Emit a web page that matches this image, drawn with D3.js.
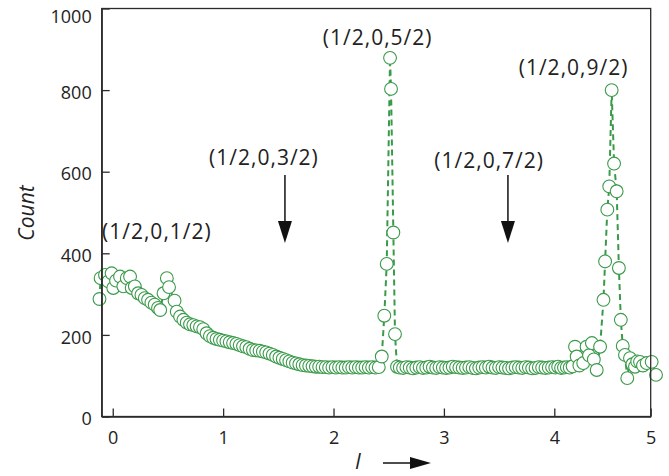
<!DOCTYPE html>
<html>
<head>
<meta charset="utf-8">
<script src="https://cdn.jsdelivr.net/npm/d3@7"></script>
<style>
  body { margin: 0; background: #fff; }
  svg { display: block; font-family: "Open Sans", sans-serif; }
</style>
</head>
<body>
<svg id="chart" width="669" height="476"></svg>
<script>
// scan along l
const lValues = [
  -0.12, -0.11, -0.07, -0.04, -0.01, 0.005, 0.03, 0.066, 0.096, 0.127, 0.157, 0.172, 0.2, 0.23, 0.26,
  0.29, 0.32, 0.35, 0.38, 0.41, 0.43, 0.46, 0.49, 0.51, 0.56, 0.58,
  0.61, 0.64, 0.67, 0.70, 0.73, 0.76, 0.79, 0.82, 0.85, 0.88, 0.91, 0.94, 0.97, 1.00, 1.03, 1.06,
  1.09, 1.12, 1.15, 1.18, 1.21, 1.24, 1.27, 1.30, 1.33, 1.36, 1.39, 1.42, 1.45, 1.48, 1.51, 1.54,
  1.57, 1.60, 1.63, 1.66, 1.69, 1.72, 1.75, 1.78, 1.81, 1.84, 1.87, 1.90, 1.93, 1.96, 1.99, 2.02,
  2.05, 2.08, 2.11, 2.14, 2.17, 2.20, 2.23, 2.26, 2.29, 2.32, 2.35, 2.38, 2.41,
  2.437, 2.46, 2.482, 2.512, 2.521, 2.542, 2.557, 2.575,
  2.60, 2.63, 2.66, 2.69, 2.72, 2.75, 2.78, 2.81, 2.84, 2.87, 2.90, 2.93, 2.96, 2.99, 3.02, 3.05,
  3.08, 3.11, 3.14, 3.17, 3.20, 3.23, 3.26, 3.29, 3.32, 3.35, 3.38, 3.41, 3.44, 3.47, 3.50, 3.53,
  3.56, 3.59, 3.62, 3.65, 3.68, 3.71, 3.74, 3.77, 3.80, 3.83, 3.86, 3.89, 3.92, 3.95, 3.98, 4.01,
  4.04, 4.07, 4.10, 4.13, 4.16, 4.19,
  4.215, 4.232, 4.26, 4.30, 4.335, 4.36, 4.39, 4.41, 4.44, 4.475, 4.51, 4.527, 4.55, 4.57, 4.595,
  4.62, 4.647, 4.67, 4.69, 4.71, 4.733, 4.757, 4.785, 4.81, 4.837, 4.86, 4.889, 4.92, 4.958, 5.01, 5.055
];
const counts = [
  288, 339, 347, 331, 351, 315, 333, 343, 319, 339, 343, 315, 319, 302, 298,
  290, 286, 279, 274, 266, 261, 302, 339, 317, 284, 257,
  245, 237, 230, 226, 224, 221, 219, 214, 204, 197, 193, 190, 188, 186, 184, 182,
  180, 178, 175, 172, 170, 166, 163, 162, 161, 159, 157, 154, 151, 147, 144, 141,
  138, 135, 132, 130, 128, 126, 125, 124, 123, 122, 122, 121, 121, 120, 121, 120,
  121, 120, 120, 121, 120, 121, 120, 120, 121, 120, 121, 120, 121,
  147, 247, 374, 879, 803, 451, 202, 122,
  120, 119, 121, 120, 118, 120, 121, 119, 120, 122, 120, 119, 121, 120, 119, 120,
  122, 121, 120, 119, 120, 121, 119, 118, 120, 121, 120, 122, 120, 119, 121, 120,
  119, 118, 120, 121, 120, 119, 121, 120, 118, 119, 121, 120, 119, 120, 121, 120,
  122, 119, 120, 121, 120, 123,
  171, 147, 125, 131, 171, 150, 180, 140, 114, 171, 286, 380, 507, 564, 800,
  620, 552, 364, 237, 173, 151, 94, 143, 128, 122, 135, 134, 125, 131, 134, 102
];

const xTicks = [0, 1, 2, 3, 4, 5];
const yTicks = [0, 200, 400, 600, 800, 1000];

// reflection labels, anchored in data units
const reflLabels = ["(1/2,0,1/2)", "(1/2,0,3/2)", "(1/2,0,5/2)", "(1/2,0,7/2)", "(1/2,0,9/2)"];
const reflL = [0.40, 1.37, 2.40, 3.41, 4.20];
const reflCount = [435, 617, 911, 610, 838];
// arrows pointing at the missing reflections
const arrowL = [1.56, 3.58];

const green = "#3a9a4a";
const ink = "#2b2b2b";

const svg = d3.select("#chart");

const x = d3.scaleLinear()
    .domain([-0.1, 4, 5])
    .range([101.7, 554.3, 650.7]);
const y = d3.scaleLinear()
    .domain([0, 1000])
    .range([416.5, 8.5]);

const points = lValues.map((l, i) => [l, counts[i]]);

// dashed guide line under the markers
svg.append("path")
    .datum(points)
    .attr("fill", "none")
    .attr("stroke", green)
    .attr("stroke-width", 2)
    .attr("stroke-dasharray", "6,4")
    .attr("d", d3.line().x(d => x(d[0])).y(d => y(d[1])));

svg.append("g")
    .selectAll("circle")
    .data(points)
    .enter().append("circle")
    .attr("cx", d => x(d[0]))
    .attr("cy", d => y(d[1]))
    .attr("r", 6.4)
    .attr("fill", "#fff")
    .attr("stroke", green)
    .attr("stroke-width", 1.1);

// frame
svg.append("rect")
    .attr("x", x.range()[0])
    .attr("y", y.range()[1])
    .attr("width", x.range()[2] - x.range()[0])
    .attr("height", y.range()[0] - y.range()[1])
    .attr("fill", "none")
    .attr("stroke", ink)
    .attr("stroke-width", 1.3);

const xAxis = svg.append("g")
    .attr("transform", `translate(0,${y.range()[0]})`)
    .call(d3.axisBottom(x).tickValues(xTicks).tickFormat(d3.format("d"))
        .tickSizeInner(-8).tickSizeOuter(0).tickPadding(15));
const yAxis = svg.append("g")
    .attr("transform", `translate(${x.range()[0]},0)`)
    .call(d3.axisLeft(y).tickValues(yTicks).tickFormat(d3.format("d"))
        .tickSizeInner(-8).tickSizeOuter(0).tickPadding(10));

[xAxis, yAxis].forEach(g => {
    g.select(".domain").attr("stroke", ink).attr("stroke-width", 1.3);
    g.selectAll(".tick line").attr("stroke", ink).attr("stroke-width", 1.3);
    g.selectAll(".tick text")
        .attr("fill", "#222")
        .style("font-family", "'Open Sans', sans-serif")
        .style("font-size", "18px");
});
yAxis.selectAll(".tick text").attr("dy", d => d === 1000 ? "0.75em" : "0.45em");

// axis titles
svg.append("text")
    .attr("transform", "translate(34,213) rotate(-90)")
    .attr("text-anchor", "middle")
    .style("font-size", "21px")
    .style("font-style", "italic")
    .attr("fill", "#222")
    .text("Count");

svg.append("text")
    .attr("x", 358)
    .attr("y", 469)
    .attr("text-anchor", "middle")
    .style("font-size", "21px")
    .style("font-style", "italic")
    .attr("fill", "#222")
    .text("l");

svg.append("line")
    .attr("x1", 383).attr("x2", 414)
    .attr("y1", 463).attr("y2", 463)
    .attr("stroke", "#111").attr("stroke-width", 1.5);
svg.append("path")
    .attr("d", "M410,457 L431,463 L410,469 Z")
    .attr("fill", "#111");

// reflection labels
svg.append("g")
    .selectAll("text")
    .data(reflLabels)
    .enter().append("text")
    .attr("x", (d, i) => x(reflL[i]))
    .attr("y", (d, i) => y(reflCount[i]))
    .attr("text-anchor", "middle")
    .style("font-size", "21px")
    .style("letter-spacing", "1px")
    .attr("fill", "#222")
    .text(d => d);

// down arrows
const arrows = svg.append("g").selectAll("g").data(arrowL).enter().append("g");
arrows.append("line")
    .attr("x1", d => x(d)).attr("x2", d => x(d))
    .attr("y1", y(592)).attr("y2", y(450))
    .attr("stroke", "#111").attr("stroke-width", 1.5);
arrows.append("path")
    .attr("d", d => {
        const cx = x(d), tip = y(425);
        return `M${cx - 7},${tip - 22} L${cx + 7},${tip - 22} L${cx},${tip} Z`;
    })
    .attr("fill", "#111");
</script>
</body>
</html>
